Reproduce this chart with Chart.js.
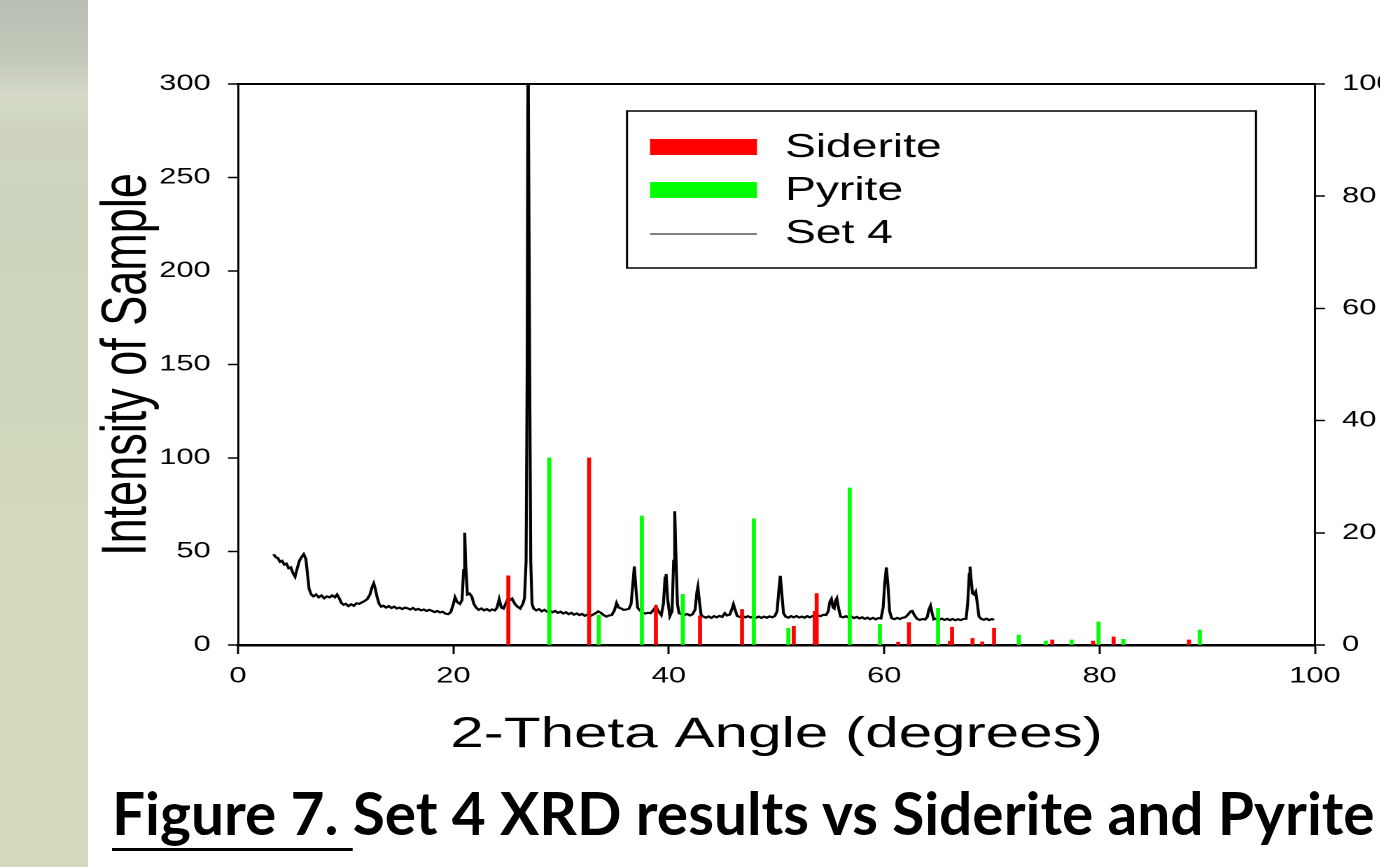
<!DOCTYPE html>
<html>
<head>
<meta charset="utf-8">
<script src="https://cdn.jsdelivr.net/npm/chart.js@4.4.1/dist/chart.umd.min.js"></script>
<style>
html,body{margin:0;padding:0;width:1380px;height:867px;overflow:hidden;background:#ffffff;}
#strip{position:absolute;left:0;top:0;width:88px;height:867px;
 background:linear-gradient(to bottom,#b8bfb2 0%,#c0c6b8 6%,#d4d9c8 11%,#cdd3c0 16%,#ccd4bb 30%,#d2d9bc 60%,#d4dbbd 100%);}
#wrap{position:absolute;left:0;top:0;width:1015px;height:867px;transform:scaleX(1.4);transform-origin:0 0;}
#caption{position:absolute;left:112px;top:780px;font-family:Lato,"Open Sans",sans-serif;font-weight:bold;
 white-space:nowrap;color:#000;line-height:1;font-size:60px;}
#caption u{text-decoration-thickness:3px;text-underline-offset:13px;}
#bl{display:inline-block;width:0;height:0;vertical-align:baseline;}
</style>
</head>
<body>
<div id="strip"></div>
<div id="wrap"><canvas id="c"></canvas></div>
<div id="caption"><u>Figure 7. </u>Set 4 XRD results vs Siderite and Pyrite<span id="bl"></span></div>
<script>
// ---------------- DATA ----------------
const seriesNames = ['Siderite', 'Pyrite', 'Set 4'];
const xTickValues = [0, 20, 40, 60, 80, 100];
const leftTickValues = [0, 50, 100, 150, 200, 250, 300];
const rightTickValues = [0, 20, 40, 60, 80, 100];

// reference pattern lines: [2-theta, intensity]
const sideritePeaks = [
  [25.1, 37], [32.6, 100], [38.8, 21], [42.9, 15.5], [46.8, 19], [51.6, 10],
  [53.55, 18], [53.73, 27.5], [61.3, 1.5], [62.3, 12], [66.1, 2], [66.3, 9.5],
  [68.2, 3.5], [69.1, 1.6], [70.2, 9], [75.6, 2.7], [79.4, 2.1], [81.3, 4.3], [88.3, 2.7]
];
const pyritePeaks = [
  [28.9, 100], [33.5, 16], [37.5, 69], [41.3, 27], [47.9, 67.5], [51.1, 9],
  [56.8, 84], [59.6, 11], [65.0, 19.6], [72.5, 5.3], [75.0, 2.1], [77.4, 2.7],
  [79.9, 12.3], [82.2, 3], [89.3, 8]
];

// measured scan: [2-theta, intensity]
const set4Scan = [
 [3.3,48.5],[3.5,47],[3.7,46.5],[3.9,44.5],[4.1,45],[4.3,43],[4.5,43.5],[4.7,41],[4.9,41.5],[5.1,38.5],
 [5.3,36.5],[5.5,41],[5.7,45],[5.9,47],[6.1,48.5],[6.3,46],[6.45,38],[6.6,30],[6.8,27],[7.0,26],
 [7.25,27],[7.5,25.5],[7.75,26.5],[8.0,25],[8.25,26],[8.5,25.5],[8.75,26.5],[9.0,25.5],[9.2,27],[9.4,25],
 [9.6,22.5],[9.8,21.5],[10.0,22],[10.25,20.8],[10.5,21.8],[10.75,21],[11.0,22.3],[11.25,22],[11.5,22.8],[11.75,23.5],
 [12.0,24.5],[12.25,27],[12.45,31],[12.6,33],[12.75,30],[12.9,26],[13.1,22],[13.3,20.5],[13.5,21],[13.75,20],
 [14.0,20.8],[14.25,19.8],[14.5,20.5],[14.75,19.5],[15.0,20],[15.25,19.2],[15.5,20],[15.75,19.6],[16.0,19],[16.25,19.8],
 [16.5,18.8],[16.75,19.3],[17.0,18.5],[17.25,19],[17.5,18.2],[17.75,18.8],[18.0,18.3],[18.25,17.6],[18.5,18.2],[18.75,17.4],
 [19.0,17.8],[19.25,16.8],[19.5,16.5],[19.75,17.5],[20.0,22],[20.15,25.5],[20.35,23],[20.6,22],[20.8,24],[20.95,40],
 [21.05,60],[21.15,42],[21.3,27],[21.5,27.5],[21.7,26],[21.9,22],[22.1,20],[22.35,18.8],[22.6,19.5],[22.85,18.5],
 [23.1,19.2],[23.35,18.3],[23.6,19],[23.85,18.5],[24.05,20],[24.25,24.5],[24.45,20],[24.65,19.5],[24.85,22],[25.05,24.5],
 [25.25,24],[25.45,24.8],[25.7,22],[25.95,20.5],[26.2,19.5],[26.45,22],[26.6,25],[26.75,45],[26.85,150],[26.93,330],
 [27.0,330],[27.08,150],[27.18,45],[27.3,22],[27.45,19.5],[27.7,18.5],[27.95,19.2],[28.2,18],[28.45,18.8],[28.7,17.8],
 [28.95,18.4],[29.2,17.5],[29.45,18.2],[29.7,17.2],[29.95,17.8],[30.2,16.8],[30.45,17.5],[30.7,16.5],[30.95,17.2],[31.2,16.2],
 [31.45,16.9],[31.7,16],[31.95,16.6],[32.2,15.6],[32.45,16.3],[32.7,15.4],[32.95,16.2],[33.2,17],[33.45,18],[33.7,17.2],
 [33.95,16],[34.2,15.2],[34.45,15.8],[34.7,16],[34.95,18.5],[35.15,22.5],[35.35,20],[35.55,19.6],[35.8,18.8],[36.05,19],
 [36.3,19.4],[36.5,22],[36.65,32],[36.8,42],[36.95,30],[37.1,20],[37.3,18.5],[37.55,17.5],[37.8,16.8],[38.05,17.2],
 [38.3,17],[38.55,18.5],[38.8,20.5],[39.05,18],[39.3,16],[39.5,22],[39.65,36],[39.75,38],[39.9,24],[40.1,15.5],
 [40.3,18],[40.45,45],[40.55,71.5],[40.65,50],[40.8,22],[40.95,17],[41.2,16.5],[41.45,16],[41.7,16.6],[41.95,15.8],
 [42.2,16.4],[42.45,19],[42.6,28],[42.7,31],[42.85,23],[43.0,16],[43.2,15.2],[43.45,14.6],[43.7,15.3],[43.95,14.5],
 [44.2,15.4],[44.45,14.8],[44.7,15.6],[44.95,15],[45.2,17],[45.4,15.8],[45.65,16.2],[45.85,19],[46.0,21.8],[46.15,19],
 [46.35,15.5],[46.6,15],[46.85,15.6],[47.1,14.8],[47.35,15.4],[47.6,14.7],[47.85,15.3],[48.1,14.6],[48.35,15.2],[48.6,14.5],
 [48.85,15.2],[49.1,14.6],[49.35,15.3],[49.6,14.8],[49.85,15.5],[50.05,18],[50.2,28],[50.35,37],[50.5,27],[50.65,17],
 [50.85,15.2],[51.1,14.6],[51.35,15.4],[51.6,14.8],[51.85,15.5],[52.1,14.7],[52.35,15.2],[52.6,14.6],[52.85,15.4],[53.1,14.8],
 [53.35,15.5],[53.6,15.6],[53.85,15.8],[54.1,15.4],[54.35,16.2],[54.6,16],[54.8,18],[54.95,23],[55.1,24.6],[55.25,20],
 [55.35,19.6],[55.5,24],[55.6,25],[55.75,20],[55.95,15.2],[56.2,14.8],[56.45,15.4],[56.7,14.6],[56.95,15.2],[57.2,14.4],
 [57.45,15],[57.7,14.2],[57.95,14.8],[58.2,14],[58.45,14.6],[58.7,13.8],[58.95,14.5],[59.2,13.7],[59.45,14.4],[59.7,14.2],
 [59.9,20],[60.05,33],[60.2,41.5],[60.35,32],[60.5,18],[60.7,14.3],[60.95,13.8],[61.2,14.5],[61.45,13.9],[61.7,14.6],
 [61.95,14.8],[62.2,16.2],[62.45,18],[62.6,18.2],[62.8,16],[63.05,14],[63.3,13.4],[63.55,13.9],[63.8,13.6],[64.0,15],
 [64.15,19],[64.3,21],[64.45,17],[64.6,13.7],[64.85,14.2],[65.1,13.5],[65.35,14.1],[65.6,13.4],[65.85,14],[66.1,13.3],
 [66.35,13.9],[66.6,13.2],[66.85,13.8],[67.1,13.3],[67.35,13.9],[67.6,14],[67.75,22],[67.9,38],[67.97,41.9],[68.05,36],
 [68.2,27.6],[68.35,27],[68.5,28.5],[68.65,22],[68.8,15.2],[69.0,14],[69.25,13.5],[69.5,14.1],[69.75,13.3],[70.0,13.9],
 [70.2,13.4]
];

// ---------------- CHART ----------------
const FONT = '"Liberation Sans", Arial, Helvetica, sans-serif';
const SX = 1.4; // horizontal stretch of the figure

const toXY = arr => arr.map(p => ({x: p[0], y: p[1]}));
const setTicks = vals => scale => { scale.ticks = vals.map(v => ({value: v})); };

const legendBox = {
  id: 'legendBox',
  afterDatasetsDraw(chart) {
    const ctx = chart.ctx, ca = chart.chartArea;
    const fx = f => ca.left + f * (ca.right - ca.left);
    const left = fx((627 - 238) / 1077), right = fx((1256 - 238) / 1077);
    const top = 111, bottom = 268;
    ctx.save();
    ctx.fillStyle = '#fff';
    ctx.fillRect(left, top, right - left, bottom - top);
    ctx.strokeStyle = '#000';
    ctx.lineWidth = 1.5;
    ctx.strokeRect(left, top, right - left, bottom - top);
    const sw0 = fx((650 - 238) / 1077), sw1 = fx((757 - 238) / 1077), tx = fx((785 - 238) / 1077);
    const rows = [148, 191, 234];
    ctx.font = '33px ' + FONT;
    ctx.textBaseline = 'middle';
    ctx.textAlign = 'left';
    chart.data.datasets.forEach((ds, i) => {
      const y = rows[i];
      if (ds.type === 'bar') {
        ctx.fillStyle = ds.backgroundColor;
        ctx.fillRect(sw0, y - 9, sw1 - sw0, 16);
      } else {
        ctx.strokeStyle = ds.borderColor;
        ctx.lineWidth = 1;
        ctx.beginPath(); ctx.moveTo(sw0, y); ctx.lineTo(sw1, y); ctx.stroke();
      }
      ctx.fillStyle = '#000';
      ctx.fillText(ds.label, tx, y);
    });
    ctx.restore();
  }
};

const tickFont = {family: FONT, size: 22};

new Chart(document.getElementById('c'), {
  type: 'line',
  data: {
    datasets: [
      {type: 'bar', label: seriesNames[0], data: toXY(sideritePeaks), backgroundColor: '#ff0000',
       borderWidth: 0, barThickness: 2.2, grouped: false, order: 0, yAxisID: 'y', xAxisID: 'x'},
      {type: 'bar', label: seriesNames[1], data: toXY(pyritePeaks), backgroundColor: '#00ff00',
       borderWidth: 0, barThickness: 2.2, grouped: false, order: 0, yAxisID: 'y', xAxisID: 'x'},
      {type: 'line', label: seriesNames[2], data: toXY(set4Scan), borderColor: '#000000',
       borderWidth: 2.1, pointRadius: 0, tension: 0, fill: false, order: 1, yAxisID: 'y', xAxisID: 'x'}
    ]
  },
  options: {
    responsive: true,
    maintainAspectRatio: false,
    animation: false,
    devicePixelRatio: 2,
    layout: {padding: {top: 84, left: 0, right: 0, bottom: 0}},
    plugins: {legend: {display: false}, tooltip: {enabled: false}},
    events: [],
    scales: {
      x: {
        type: 'linear', position: 'bottom', min: 0, max: 100, offset: false,
        afterBuildTicks: setTicks(xTickValues),
        afterFit: s => { s.height = 222; },
        grid: {drawOnChartArea: false, drawTicks: true, tickLength: 9, tickWidth: 1.5, tickColor: '#000', offset: false},
        border: {display: true, color: '#000', width: 2.5},
        ticks: {color: '#000', font: tickFont, padding: 9, maxRotation: 0, autoSkip: false},
        title: {display: true, text: '2-Theta Angle (degrees)', color: '#000',
                font: {family: FONT, size: 43, lineHeight: 1.2}, padding: {top: 0, bottom: 106.3}}
      },
      x2: {
        type: 'linear', position: 'top', min: 0, max: 100,
        afterFit: s => { s.height = 0; },
        grid: {display: false}, ticks: {display: false},
        border: {display: true, color: '#000', width: 2}
      },
      y: {
        type: 'linear', position: 'left', min: 0, max: 300,
        afterBuildTicks: setTicks(leftTickValues),
        afterFit: s => { s.width = 238 / SX; },
        grid: {drawOnChartArea: false, drawTicks: true, tickLength: 10 / SX, tickWidth: 1.5, tickColor: '#000'},
        border: {display: true, color: '#000', width: 1.5},
        ticks: {color: '#000', font: tickFont, padding: 12.4},
        title: {display: true, text: 'Intensity of Sample', color: '#000',
                font: {family: FONT, size: 45, lineHeight: 1.2}, padding: {top: 64.4, bottom: 0}}
      },
      y2: {
        type: 'linear', position: 'right', min: 0, max: 100,
        afterBuildTicks: setTicks(rightTickValues),
        afterFit: s => { s.width = (1421 - 1315) / SX; },
        grid: {drawOnChartArea: false, drawTicks: true, tickLength: 10 / SX, tickWidth: 1.5, tickColor: '#000'},
        border: {display: true, color: '#000', width: 1.5},
        ticks: {color: '#000', font: tickFont, padding: 12.2}
      }
    }
  },
  plugins: [legendBox]
});

// caption: fit to the reference width and baseline
(function () {
  const cap = document.getElementById('caption');
  const w = cap.getBoundingClientRect().width;
  const fs = 60 * 1263 / w;
  cap.style.fontSize = fs + 'px';
  const bl = document.getElementById('bl').getBoundingClientRect().bottom;
  cap.style.top = (780 + (835 - bl)) + 'px';
})();
</script>
</body>
</html>
